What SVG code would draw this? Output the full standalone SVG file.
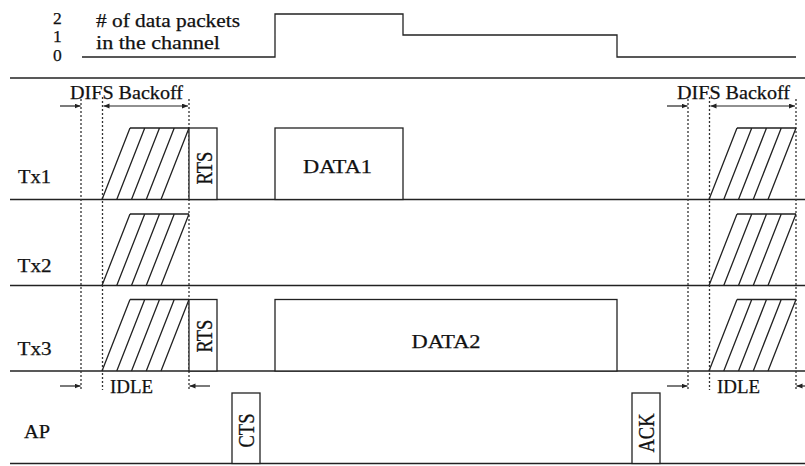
<svg xmlns="http://www.w3.org/2000/svg" xmlns:xlink="http://www.w3.org/1999/xlink" width="805" height="466" viewBox="0 0 805 466">
<defs>
<style>
.t{font-family:"Liberation Serif","Times New Roman",serif;font-size:18.5px;fill:#111;stroke:#111;stroke-width:0.25}
.d{font-size:17.5px}
.ln{stroke:#222;stroke-width:1.3;fill:none}
.bx{stroke:#222;stroke-width:1.3;fill:#fff}
.dot{stroke:#333;stroke-width:1.3;stroke-dasharray:2 2;fill:none}
.ar{stroke:#222;stroke-width:1.2;fill:none;marker-end:url(#ah)}
.ar2{stroke:#222;stroke-width:1.2;fill:none;marker-end:url(#ah);marker-start:url(#ah)}
</style>
<marker id="ah" markerUnits="userSpaceOnUse" markerWidth="7" markerHeight="6" refX="6" refY="2.5" orient="auto-start-reverse">
<path d="M0,0 L6,2.5 L0,5 z" fill="#222"/>
</marker>
<g id="bo">
<path class="ln" d="M28,0 H87 M0,71.5 L28,0 M14.75,71.5 L42.75,0 M29.5,71.5 L57.5,0 M44.25,71.5 L72.25,0 M59,71.5 L87,0"/>
</g>
<g id="timing">
<line class="dot" x1="81" y1="99" x2="81" y2="390"/>
<line class="dot" x1="102.5" y1="97" x2="102.5" y2="390"/>
<line class="dot" x1="189" y1="99" x2="189" y2="390"/>
<line class="ar" x1="60" y1="106" x2="80.5" y2="106"/>
<line class="ar2" x1="103.5" y1="106" x2="188" y2="106"/>
<text class="t" x="70" y="99" textLength="113" lengthAdjust="spacingAndGlyphs">DIFS Backoff</text>
<line class="ar" x1="60" y1="386" x2="80.5" y2="386"/>
<line class="ar" x1="210" y1="386" x2="189.5" y2="386"/>
<text class="t" x="110" y="393" textLength="43" lengthAdjust="spacingAndGlyphs">IDLE</text>
</g>
</defs>

<g id="channel">
<text class="t d" x="53" y="24">2</text>
<text class="t d" x="53" y="41.5">1</text>
<text class="t d" x="53" y="61">0</text>
<text class="t" x="96" y="27" textLength="144" lengthAdjust="spacingAndGlyphs"># of data packets</text>
<text class="t" x="96" y="48.5" textLength="124" lengthAdjust="spacingAndGlyphs">in the channel</text>
<path class="ln" d="M82,57 H275 V14 H403 V35 H617 V57 H796"/>
</g>

<g id="rows">
<line class="ln" x1="10" y1="78" x2="805" y2="78"/>
<line class="ln" x1="10" y1="199.5" x2="805" y2="199.5"/>
<line class="ln" x1="10" y1="285.5" x2="805" y2="285.5"/>
<line class="ln" x1="10" y1="371" x2="805" y2="371"/>
<line class="ln" x1="10" y1="463.5" x2="805" y2="463.5"/>
</g>

<g id="markers-left"><use xlink:href="#timing"/></g>
<g id="markers-right"><use xlink:href="#timing" transform="translate(607,0)"/></g>

<g id="tx1">
<text class="t" x="18" y="183" textLength="33" lengthAdjust="spacingAndGlyphs">Tx1</text>
<use xlink:href="#bo" transform="translate(102,128)"/>
<use xlink:href="#bo" transform="translate(709,128)"/>
<rect class="bx" x="189" y="128" width="28" height="71.5"/>
<text class="t" text-anchor="middle" y="6.1" transform="translate(204.5,168) scale(1.25,1) rotate(-90)">RTS</text>
<rect class="bx" x="275" y="128" width="128" height="71.5"/>
<text class="t" x="303" y="172.5" textLength="69" lengthAdjust="spacingAndGlyphs">DATA1</text>
</g>

<g id="tx2">
<text class="t" x="17.5" y="271.5" textLength="34" lengthAdjust="spacingAndGlyphs">Tx2</text>
<use xlink:href="#bo" transform="translate(102,214)"/>
<use xlink:href="#bo" transform="translate(709,214)"/>
</g>

<g id="tx3">
<text class="t" x="17.5" y="355" textLength="34" lengthAdjust="spacingAndGlyphs">Tx3</text>
<use xlink:href="#bo" transform="translate(102,299.5)"/>
<use xlink:href="#bo" transform="translate(709,299.5)"/>
<rect class="bx" x="189" y="299.5" width="28" height="71.5"/>
<text class="t" text-anchor="middle" y="6.1" transform="translate(204.5,336) scale(1.25,1) rotate(-90)">RTS</text>
<rect class="bx" x="275" y="299.5" width="342" height="71.5"/>
<text class="t" x="411.5" y="348" textLength="69" lengthAdjust="spacingAndGlyphs">DATA2</text>
</g>

<g id="ap">
<text class="t" x="24" y="438" textLength="26" lengthAdjust="spacingAndGlyphs">AP</text>
<rect class="bx" x="232" y="393" width="28" height="70.5"/>
<text class="t" text-anchor="middle" y="6.1" transform="translate(246.5,430.5) scale(1.25,1) rotate(-90)">CTS</text>
<rect class="bx" x="632" y="393" width="28" height="70.5"/>
<text class="t" text-anchor="middle" y="6.1" transform="translate(646,433) scale(1.25,1) rotate(-90)">ACK</text>
</g>
</svg>
